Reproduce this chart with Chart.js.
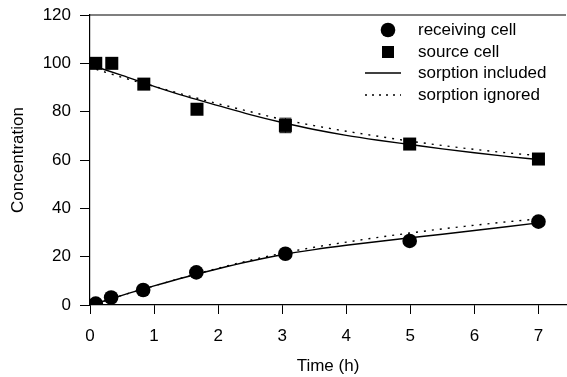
<!DOCTYPE html>
<html lang="en">
<head>
	<meta charset="UTF-8">
	<title>Concentration vs time</title>
	<script src="https://cdn.jsdelivr.net/npm/chart.js"></script>
	<style>
		html, body { margin: 0; padding: 0; background: #fff; overflow: hidden; }
		#wrap { width: 567px; height: 377px; }
		canvas { display: block; }
	</style>
</head>
<body>
	<div id="wrap">
		<canvas id="chart"></canvas>
	</div>
	<script>
		// measured points
		const recvT = [0.09, 0.33, 0.83, 1.66, 3.05, 4.99, 7.0];
		const recvC = [0.6, 3.1, 6.2, 13.5, 21.2, 26.5, 34.5];
		const srcT = [0.09, 0.34, 0.84, 1.67, 3.05, 4.99, 7.0];
		const srcC = [100, 100, 91.4, 81.0, 74.3, 66.6, 60.4];
		const srcErr = [0, 0, 0, 0, 3.0, 0, 0];

		// model curves
		const curveT = [0.1, 0.5, 1, 1.5, 2, 2.5, 3, 3.5, 4, 4.5, 5, 5.5, 6, 6.5, 7];
		const srcIncl = [98.5, 95, 90.5, 86.3, 82.5, 78.8, 75.5, 72.6, 70.2, 68.2, 66.4, 64.6, 63, 61.5, 60.2];
		const srcIgn = [97.5, 94.2, 90.5, 86.8, 83.3, 80, 76.8, 74.2, 71.9, 69.8, 67.8, 66, 64.4, 63, 61.8];
		const recvIncl = [0.6, 4.0, 7.9, 11.6, 15.0, 18.1, 20.8, 22.9, 24.7, 26.3, 27.8, 29.3, 30.8, 32.4, 34];
		const recvIgn = [0.6, 4.0, 7.9, 11.7, 15.2, 18.5, 21.4, 23.9, 26.0, 28.0, 29.8, 31.5, 33.0, 34.4, 35.6];

		const xTicks = [0, 1, 2, 3, 4, 5, 6, 7];
		const yTicks = [0, 20, 40, 60, 80, 100, 120];
		const legendLabels = ['receiving cell', 'source cell', 'sorption included', 'sorption ignored'];

		const FONT = 'Liberation Sans, Arial, Helvetica, sans-serif';
		const pts = (xs, ys) => xs.map((x, i) => ({x: x, y: ys[i]}));

		const frame = {
			id: 'frame',
			afterDraw(chart) {
				const c = chart.ctx, a = chart.chartArea;
				const xs = chart.scales.x, ys = chart.scales.y;
				c.save();
				c.strokeStyle = '#000';
				c.lineWidth = 1.2;
				c.beginPath();
				c.moveTo(a.left, a.top);
				c.lineTo(a.right, a.top);
				c.stroke();

				// error bars
				c.lineWidth = 1;
				srcErr.forEach((e, i) => {
					if (!e) return;
					const px = xs.getPixelForValue(srcT[i]);
					const y1 = ys.getPixelForValue(srcC[i] + e);
					const y2 = ys.getPixelForValue(srcC[i] - e);
					c.beginPath();
					c.moveTo(px, y1); c.lineTo(px, y2);
					c.moveTo(px - 6, y1); c.lineTo(px + 6, y1);
					c.moveTo(px - 6, y2); c.lineTo(px + 6, y2);
					c.stroke();
				});

				// legend
				const lx = 418, ly = [30, 52, 73, 95];
				c.fillStyle = '#000';
				c.font = '17px ' + FONT;
				c.textBaseline = 'middle';
				c.textAlign = 'left';
				legendLabels.forEach((t, i) => c.fillText(t, lx, ly[i]));
				c.beginPath();
				c.arc(388, ly[0], 7.3, 0, Math.PI * 2);
				c.fill();
				c.fillRect(382, ly[1] - 6, 12, 12);
				c.lineWidth = 1.5;
				c.beginPath();
				c.moveTo(365, ly[2]); c.lineTo(401, ly[2]);
				c.stroke();
				c.setLineDash([2, 5]);
				c.beginPath();
				c.moveTo(365, ly[3]); c.lineTo(401, ly[3]);
				c.stroke();
				c.restore();
			}
		};

		const lineDs = (label, data, dash) => ({
			type: 'line',
			label: label,
			data: data,
			borderColor: '#000',
			borderWidth: 1.4,
			borderDash: dash,
			pointRadius: 0,
			cubicInterpolationMode: 'monotone',
			fill: false
		});

		new Chart(document.getElementById('chart'), {
			type: 'scatter',
			data: {
				datasets: [
					lineDs('sorption included', pts(curveT, srcIncl), []),
					lineDs('sorption ignored', pts(curveT, srcIgn), [2, 6]),
					lineDs('sorption included', pts(curveT, recvIncl), []),
					lineDs('sorption ignored', pts(curveT, recvIgn), [2, 6]),
					{
						label: 'receiving cell',
						data: pts(recvT, recvC),
						pointStyle: 'circle',
						pointRadius: 7.3,
						backgroundColor: '#000',
						borderColor: '#000',
						borderWidth: 0
					},
					{
						label: 'source cell',
						data: pts(srcT, srcC),
						pointStyle: 'rect',
						pointRadius: 9.2,
						backgroundColor: '#000',
						borderColor: '#000',
						borderWidth: 0
					}
				]
			},
			options: {
				responsive: true,
				maintainAspectRatio: false,
				animation: false,
				layout: { autoPadding: false, padding: { top: 15, right: 1, left: 0, bottom: 0 } },
				plugins: {
					legend: { display: false },
					tooltip: { enabled: false }
				},
				scales: {
					x: {
						type: 'linear',
						min: 0,
						max: 7.43,
						afterBuildTicks: s => { s.ticks = xTicks.map(v => ({value: v})); },
						afterFit: s => { s.height = 72; s.paddingLeft = 0; s.paddingRight = 0; },
						grid: { drawOnChartArea: false, drawTicks: true, tickLength: 9, color: '#000', lineWidth: 1 },
						border: { display: true, color: '#000', width: 1.2 },
						ticks: { color: '#000', font: { family: FONT, size: 17 }, padding: 12, maxRotation: 0 },
						title: { display: true, text: 'Time (h)', color: '#000', font: { family: FONT, size: 17 }, padding: { top: 0, bottom: 0 } }
					},
					y: {
						min: 0,
						max: 120,
						afterBuildTicks: s => { s.ticks = yTicks.map(v => ({value: v})); },
						afterFit: s => { s.width = 90; s.paddingTop = 0; s.paddingBottom = 0; },
						grid: { drawOnChartArea: false, drawTicks: true, tickLength: 10, color: '#000', lineWidth: 1 },
						border: { display: true, color: '#000', width: 1.2 },
						ticks: { color: '#000', font: { family: FONT, size: 17 }, padding: 9 },
						title: { display: true, text: 'Concentration', color: '#000', font: { family: FONT, size: 17, lineHeight: 2.1 }, padding: { top: 0, bottom: 0 } }
					}
				}
			},
			plugins: [frame]
		});
	</script>
</body>
</html>
